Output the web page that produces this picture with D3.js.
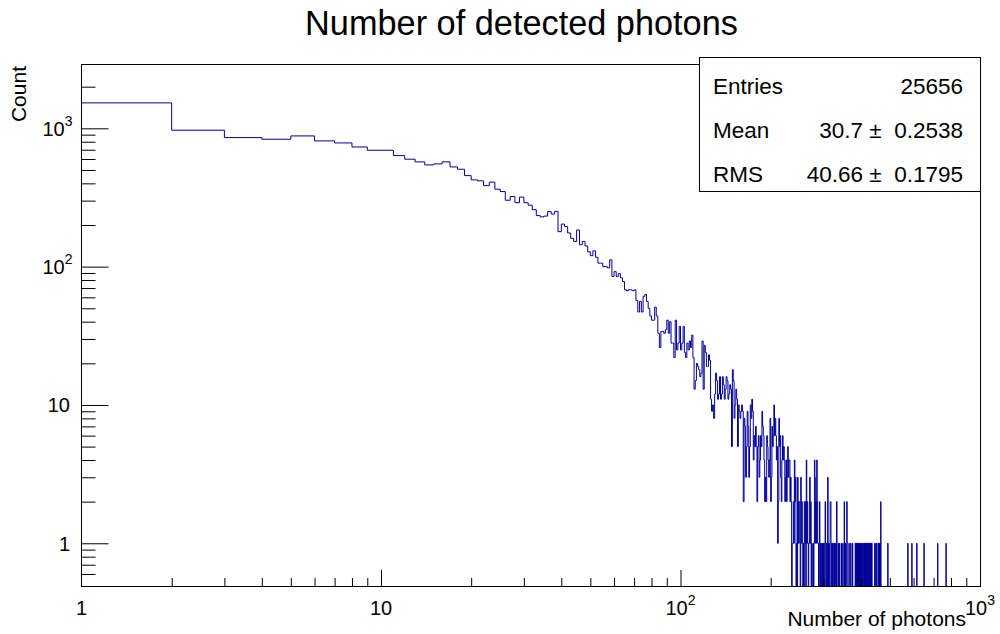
<!DOCTYPE html>
<html><head><meta charset="utf-8">
<script src="https://cdn.jsdelivr.net/npm/d3@7"></script>
<style>
body{margin:0;background:#fff}
svg{display:block}
text{font-family:"Liberation Sans",Arial,Helvetica,sans-serif;fill:#000}
</style>
</head><body>
<svg id="c" width="1000" height="634"></svg>
<script>
// ---- data ----
// counts for integer bins [n, n+1), n = 1..99
const countsLow = [
 1527, 969, 857, 834, 881, 811, 784, 733, 694, 694,
 635, 598, 572, 544, 553, 572, 526, 506, 455, 424,
 417, 385, 408, 363, 349, 302, 321, 290, 318, 290,
 278, 258, 234, 229, 232, 250, 240, 251, 179, 203,
 195, 175, 160, 152, 184, 144, 152, 141, 128, 120,
 130, 117, 106, 106, 100, 100, 98, 112, 85, 92,
 85, 89, 83, 78, 68, 67, 68, 68, 67, 68,
 57, 47, 56, 47, 61, 63, 56, 50, 44, 41,
 41, 51, 44, 33, 26, 34, 34, 33, 35, 41,
 33, 40, 28, 28, 22, 41, 25, 28, 37
];
// counts for bins n = 100..323
const countsMid = [
 25, 28, 37, 24, 22, 28, 25, 29, 26, 32,
 22, 13, 15, 20, 19, 18, 16, 17, 29, 13,
 27, 24, 19, 19, 23, 21, 11, 9, 10, 8,
 12, 17, 15, 11, 12, 16, 11, 12, 16, 14,
 11, 13, 16, 15, 11, 12, 14, 13, 5, 18,
 15, 8, 10, 13, 11, 5, 10, 9, 8, 9,
 10, 9, 2, 8, 7, 3, 5, 9, 7, 3,
 5, 10, 8, 11, 9, 4, 6, 5, 7, 5,
 2, 5, 6, 3, 4, 6, 5, 9, 7, 6,
 4, 2, 3, 2, 6, 5, 4, 3, 4, 8,
 2, 3, 7, 5, 6, 10, 6, 8, 6, 4,
 5, 1, 2, 8, 5, 6, 3, 2, 4, 6,
 4, 5, 4, 2, 3, 4, 2, 3, 5, 3,
 4, 4, 2, 3, 2, 0, 1, 1, 2, 1,
 4, 2, 3, 0, 1, 0, 3, 1, 2, 2,
 1, 0, 3, 1, 2, 1, 0, 1, 0, 2,
 1, 2, 0, 4, 1, 2, 1, 0, 1, 1,
 3, 1, 2, 0, 1, 0, 0, 1, 0, 1,
 4, 3, 1, 2, 1, 4, 2, 1, 1, 0,
 1, 2, 0, 1, 0, 0, 1, 0, 1, 1,
 0, 1, 0, 0, 2, 1, 0, 1, 1, 0,
 3, 1, 0, 1, 0, 0, 2, 2, 1, 0,
 1, 1, 0, 1
];
// sparse tail: non-empty bins above 323
const tailBins = [324,326,328,332,336,339,344,348,352,355,359,365,370,375,
 383,385,386,388,390,391,393,396,398,400,403,405,
 409,411,413,414,416,418,420,421,423,426,428,431,433,435,
 445,449,452,458,461,463,466,492,574,592,615,650,722,770];
const tailCounts = [1,1,1,2,1,1,1,1,2,1,2,1,1,1,
 1,1,1,1,1,1,1,1,1,1,1,1,
 1,1,1,1,1,1,1,1,1,1,1,1,1,1,
 1,1,1,1,1,1,2,1,1,1,1,1,1,1];

const xTickValues = [1, 10, 100, 1000];
const xTickLabels = [["1",""],["10",""],["10","2"],["10","3"]];
const yTickValues = [1, 10, 100, 1000];
const yTickLabels = [["1",""],["10",""],["10","2"],["10","3"]];

const titleText = "Number of detected photons";
const xTitle = "Number of photons";
const yTitle = "Count";
const statNames = ["Entries", "Mean", "RMS"];
const statValues = ["25656", "30.7 \u00B1  0.2538", "40.66 \u00B1  0.1795"];

// ---- build bins ----
const nMax = 999;
const counts = new Array(nMax + 1).fill(0);
countsLow.forEach((c, i) => counts[1 + i] = c);
countsMid.forEach((c, i) => counts[100 + i] = c);
tailBins.forEach((b, i) => counts[b] = tailCounts[i]);

// ---- layout ----
const L = 81.5, R = 980, T = 64.5, B = 586.5;
const svg = d3.select("#c");
const x = d3.scaleLog().domain([1, 1000]).range([L, R]);
const y = d3.scaleLog().domain([0.4870, 2893]).range([B, T]);

svg.append("defs").append("clipPath").attr("id", "fr")
  .append("rect").attr("x", L).attr("y", T).attr("width", R - L).attr("height", B - T);

// histogram step line
const pts = [];
for (let n = 1; n <= nMax; n++) pts.push([n, counts[n]]);
pts.push([1000, counts[nMax]]);
const line = d3.line()
  .x(d => x(d[0]))
  .y(d => d[1] > 0 ? y(d[1]) : B)
  .curve(d3.curveStepAfter);
svg.append("path").attr("d", line(pts))
  .attr("clip-path", "url(#fr)")
  .attr("fill", "none").attr("stroke", "#000099").attr("stroke-width", 1);

// ticks
const minorX = [];
[1, 10, 100].forEach(d => { for (let k = 2; k <= 9; k++) minorX.push(d * k); });
const minorY = [0.6, 0.7, 0.8, 0.9];
[1, 10, 100].forEach(d => { for (let k = 2; k <= 9; k++) minorY.push(d * k); });
minorY.push(2000);

function styleAxis(g) {
  g.select(".domain").remove();
  g.selectAll(".tick line").attr("stroke", "#000").attr("stroke-width", 1);
  g.selectAll(".tick text").remove();
}
svg.append("g").attr("transform", `translate(0,${B - 0.5})`)
  .call(d3.axisBottom(x).tickValues([10, 100]).tickSize(-16).tickFormat(""))
  .call(styleAxis);
svg.append("g").attr("transform", `translate(0,${B - 0.5})`)
  .call(d3.axisBottom(x).tickValues(minorX).tickSize(-8).tickFormat(""))
  .call(styleAxis);
svg.append("g").attr("transform", `translate(${L},0)`)
  .call(d3.axisLeft(y).tickValues(yTickValues).tickSize(-27).tickFormat(""))
  .call(styleAxis);
svg.append("g").attr("transform", `translate(${L},0)`)
  .call(d3.axisLeft(y).tickValues(minorY).tickSize(-14).tickFormat(""))
  .call(styleAxis);

// frame
svg.append("rect").attr("x", L).attr("y", T).attr("width", R + 0.5 - L).attr("height", B - T)
  .attr("fill", "none").attr("stroke", "#000").attr("stroke-width", 1);

// tick labels
function supLabel(t, lab) {
  t.append("tspan").text(lab[0]);
  if (lab[1]) t.append("tspan").attr("dy", -10).attr("font-size", 14).text(lab[1]);
}
xTickValues.forEach((v, i) => {
  const t = svg.append("text").attr("x", x(v)).attr("y", 615)
    .attr("text-anchor", "middle").attr("font-size", 20);
  supLabel(t, xTickLabels[i]);
});
yTickValues.forEach((v, i) => {
  const lab = yTickLabels[i];
  const t = svg.append("text").attr("x", lab[1] ? 72.5 : 70).attr("y", y(v) + 7.5)
    .attr("text-anchor", "end").attr("font-size", 20);
  supLabel(t, lab);
});

// titles
svg.append("text").attr("x", 521.5).attr("y", 35).attr("text-anchor", "middle")
  .attr("font-size", 34.3).text(titleText);
svg.append("text").attr("x", 966).attr("y", 626).attr("text-anchor", "end")
  .attr("font-size", 21).text(xTitle);
svg.append("text").attr("transform", "translate(25.5,66) rotate(-90)")
  .attr("text-anchor", "end").attr("font-size", 21).text(yTitle);

// stats box
svg.append("rect").attr("x", 699.5).attr("y", 57.5).attr("width", 281).attr("height", 134)
  .attr("fill", "#fff").attr("stroke", "#000").attr("stroke-width", 1);
statNames.forEach((s, i) => {
  const by = 93.5 + i * 44;
  svg.append("text").attr("x", 713).attr("y", by).attr("font-size", 22.5).text(s);
  svg.append("text").attr("x", 963).attr("y", by).attr("font-size", 22.5)
    .attr("text-anchor", "end").style("white-space", "pre").text(statValues[i]);
});
</script>
</body></html>
